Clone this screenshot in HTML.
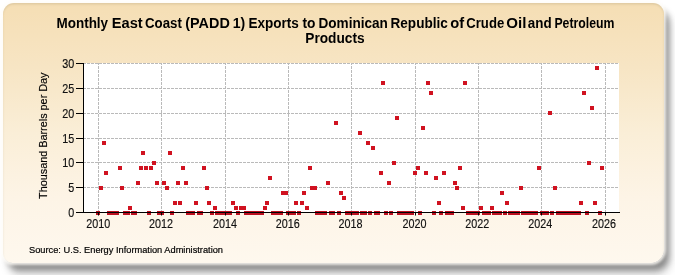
<!DOCTYPE html>
<html><head><meta charset="utf-8"><style>
html,body{margin:0;padding:0;background:#fff;width:675px;height:275px;overflow:hidden;}
#shadow{position:absolute;left:3px;top:2.5px;width:661px;height:260px;border-radius:11px 11px 14px 10px;
box-shadow:5px 7px 6px rgba(0,0,0,0.36),6px 12px 10px rgba(0,0,0,0.18);}
#frame{position:absolute;left:3px;top:2.5px;width:661px;height:260px;border-radius:11px 11px 14px 10px;
background:linear-gradient(to bottom,#F5DEB4 0%,#F7E5C4 25%,#FAEED7 50%,#FDF4E6 75%,#FEF8EE 100%);
box-shadow:0 0 3px 1.5px rgba(255,253,248,0.85),inset 0 1.5px 2px rgba(110,100,60,0.16);filter:blur(0.6px);}
svg{position:absolute;left:0;top:0;will-change:transform;}
.t{font-weight:bold;font-size:14px;fill:#000}
text{font-family:"Liberation Sans",sans-serif;fill:#111;}
</style></head><body>
<div id="shadow"></div><div id="frame"></div>
<svg width="675" height="275" viewBox="0 0 675 275">
<text x="56.5" y="28" textLength="51.6" lengthAdjust="spacingAndGlyphs" class="t">Monthly</text>
<text x="111.8" y="28" textLength="30.9" lengthAdjust="spacingAndGlyphs" class="t">East</text>
<text x="145.0" y="28" textLength="36.8" lengthAdjust="spacingAndGlyphs" class="t">Coast</text>
<text x="185.3" y="28" textLength="44.5" lengthAdjust="spacingAndGlyphs" class="t">(PADD</text>
<text x="232.7" y="28" textLength="12.5" lengthAdjust="spacingAndGlyphs" class="t">1)</text>
<text x="248.5" y="28" textLength="50.4" lengthAdjust="spacingAndGlyphs" class="t">Exports</text>
<text x="302.5" y="28" textLength="13.0" lengthAdjust="spacingAndGlyphs" class="t">to</text>
<text x="318.5" y="28" textLength="69.4" lengthAdjust="spacingAndGlyphs" class="t">Dominican</text>
<text x="390.5" y="28" textLength="57.3" lengthAdjust="spacingAndGlyphs" class="t">Republic</text>
<text x="450.2" y="28" textLength="13.9" lengthAdjust="spacingAndGlyphs" class="t">of</text>
<text x="466.3" y="28" textLength="37.9" lengthAdjust="spacingAndGlyphs" class="t">Crude</text>
<text x="506.3" y="28" textLength="20.1" lengthAdjust="spacingAndGlyphs" class="t">Oil</text>
<text x="527.8" y="28" textLength="23.8" lengthAdjust="spacingAndGlyphs" class="t">and</text>
<text x="554.4" y="28" textLength="60.0" lengthAdjust="spacingAndGlyphs" class="t">Petroleum</text>
<text x="305.3" y="42.8" textLength="59.3" lengthAdjust="spacingAndGlyphs" class="t">Products</text>
<rect x="83.5" y="63" width="535.5" height="149.5" fill="#fff"/>
<g stroke="#bababa" stroke-width="1" stroke-dasharray="3,1" stroke-dashoffset="1" fill="none"><line x1="84" y1="187.5" x2="619" y2="187.5"/><line x1="84" y1="162.5" x2="619" y2="162.5"/><line x1="84" y1="138.5" x2="619" y2="138.5"/><line x1="84" y1="113.5" x2="619" y2="113.5"/><line x1="84" y1="88.5" x2="619" y2="88.5"/><line x1="84" y1="63.5" x2="619" y2="63.5"/><line x1="98.5" y1="63" x2="98.5" y2="212"/><line x1="161.5" y1="63" x2="161.5" y2="212"/><line x1="225.5" y1="63" x2="225.5" y2="212"/><line x1="288.5" y1="63" x2="288.5" y2="212"/><line x1="351.5" y1="63" x2="351.5" y2="212"/><line x1="415.5" y1="63" x2="415.5" y2="212"/><line x1="478.5" y1="63" x2="478.5" y2="212"/><line x1="541.5" y1="63" x2="541.5" y2="212"/><line x1="605.5" y1="63" x2="605.5" y2="212"/></g>
<g fill="#D01220"><rect x="99" y="186" width="4" height="4"/><rect x="102" y="141" width="4" height="4"/><rect x="104" y="171" width="4" height="4"/><rect x="118" y="166" width="4" height="4"/><rect x="120" y="186" width="4" height="4"/><rect x="128" y="206" width="4" height="4"/><rect x="136" y="181" width="4" height="4"/><rect x="139" y="166" width="4" height="4"/><rect x="141" y="151" width="4" height="4"/><rect x="144" y="166" width="4" height="4"/><rect x="149" y="166" width="4" height="4"/><rect x="152" y="161" width="4" height="4"/><rect x="155" y="181" width="4" height="4"/><rect x="162" y="181" width="4" height="4"/><rect x="165" y="186" width="4" height="4"/><rect x="168" y="151" width="4" height="4"/><rect x="173" y="201" width="4" height="4"/><rect x="176" y="181" width="4" height="4"/><rect x="178" y="201" width="4" height="4"/><rect x="181" y="166" width="4" height="4"/><rect x="184" y="181" width="4" height="4"/><rect x="194" y="201" width="4" height="4"/><rect x="202" y="166" width="4" height="4"/><rect x="205" y="186" width="4" height="4"/><rect x="207" y="201" width="4" height="4"/><rect x="213" y="206" width="4" height="4"/><rect x="231" y="201" width="4" height="4"/><rect x="234" y="206" width="4" height="4"/><rect x="239" y="206" width="4" height="4"/><rect x="242" y="206" width="4" height="4"/><rect x="263" y="206" width="4" height="4"/><rect x="265" y="201" width="4" height="4"/><rect x="268" y="176" width="4" height="4"/><rect x="281" y="191" width="4" height="4"/><rect x="284" y="191" width="4" height="4"/><rect x="294" y="201" width="4" height="4"/><rect x="300" y="201" width="4" height="4"/><rect x="302" y="191" width="4" height="4"/><rect x="305" y="206" width="4" height="4"/><rect x="308" y="166" width="4" height="4"/><rect x="310" y="186" width="4" height="4"/><rect x="313" y="186" width="4" height="4"/><rect x="326" y="181" width="4" height="4"/><rect x="334" y="121" width="4" height="4"/><rect x="339" y="191" width="4" height="4"/><rect x="342" y="196" width="4" height="4"/><rect x="358" y="131" width="4" height="4"/><rect x="366" y="141" width="4" height="4"/><rect x="371" y="146" width="4" height="4"/><rect x="379" y="171" width="4" height="4"/><rect x="381" y="81" width="4" height="4"/><rect x="387" y="181" width="4" height="4"/><rect x="392" y="161" width="4" height="4"/><rect x="395" y="116" width="4" height="4"/><rect x="413" y="171" width="4" height="4"/><rect x="416" y="166" width="4" height="4"/><rect x="421" y="126" width="4" height="4"/><rect x="424" y="171" width="4" height="4"/><rect x="426" y="81" width="4" height="4"/><rect x="429" y="91" width="4" height="4"/><rect x="434" y="176" width="4" height="4"/><rect x="437" y="201" width="4" height="4"/><rect x="442" y="171" width="4" height="4"/><rect x="453" y="181" width="4" height="4"/><rect x="455" y="186" width="4" height="4"/><rect x="458" y="166" width="4" height="4"/><rect x="461" y="206" width="4" height="4"/><rect x="463" y="81" width="4" height="4"/><rect x="479" y="206" width="4" height="4"/><rect x="490" y="206" width="4" height="4"/><rect x="500" y="191" width="4" height="4"/><rect x="505" y="201" width="4" height="4"/><rect x="519" y="186" width="4" height="4"/><rect x="537" y="166" width="4" height="4"/><rect x="548" y="111" width="4" height="4"/><rect x="553" y="186" width="4" height="4"/><rect x="579" y="201" width="4" height="4"/><rect x="582" y="91" width="4" height="4"/><rect x="587" y="161" width="4" height="4"/><rect x="590" y="106" width="4" height="4"/><rect x="593" y="201" width="4" height="4"/><rect x="595" y="66" width="4" height="4"/><rect x="600" y="166" width="4" height="4"/></g>
<g fill="#BC1020"><rect x="96" y="211" width="4" height="4"/><rect x="107" y="211" width="4" height="4"/><rect x="110" y="211" width="4" height="4"/><rect x="112" y="211" width="4" height="4"/><rect x="115" y="211" width="4" height="4"/><rect x="123" y="211" width="4" height="4"/><rect x="126" y="211" width="4" height="4"/><rect x="131" y="211" width="4" height="4"/><rect x="133" y="211" width="4" height="4"/><rect x="147" y="211" width="4" height="4"/><rect x="157" y="211" width="4" height="4"/><rect x="160" y="211" width="4" height="4"/><rect x="170" y="211" width="4" height="4"/><rect x="186" y="211" width="4" height="4"/><rect x="189" y="211" width="4" height="4"/><rect x="191" y="211" width="4" height="4"/><rect x="197" y="211" width="4" height="4"/><rect x="199" y="211" width="4" height="4"/><rect x="210" y="211" width="4" height="4"/><rect x="215" y="211" width="4" height="4"/><rect x="218" y="211" width="4" height="4"/><rect x="221" y="211" width="4" height="4"/><rect x="223" y="211" width="4" height="4"/><rect x="226" y="211" width="4" height="4"/><rect x="228" y="211" width="4" height="4"/><rect x="236" y="211" width="4" height="4"/><rect x="244" y="211" width="4" height="4"/><rect x="247" y="211" width="4" height="4"/><rect x="250" y="211" width="4" height="4"/><rect x="252" y="211" width="4" height="4"/><rect x="255" y="211" width="4" height="4"/><rect x="257" y="211" width="4" height="4"/><rect x="260" y="211" width="4" height="4"/><rect x="271" y="211" width="4" height="4"/><rect x="273" y="211" width="4" height="4"/><rect x="276" y="211" width="4" height="4"/><rect x="279" y="211" width="4" height="4"/><rect x="286" y="211" width="4" height="4"/><rect x="289" y="211" width="4" height="4"/><rect x="292" y="211" width="4" height="4"/><rect x="297" y="211" width="4" height="4"/><rect x="315" y="211" width="4" height="4"/><rect x="318" y="211" width="4" height="4"/><rect x="321" y="211" width="4" height="4"/><rect x="323" y="211" width="4" height="4"/><rect x="329" y="211" width="4" height="4"/><rect x="331" y="211" width="4" height="4"/><rect x="337" y="211" width="4" height="4"/><rect x="345" y="211" width="4" height="4"/><rect x="347" y="211" width="4" height="4"/><rect x="350" y="211" width="4" height="4"/><rect x="352" y="211" width="4" height="4"/><rect x="355" y="211" width="4" height="4"/><rect x="360" y="211" width="4" height="4"/><rect x="363" y="211" width="4" height="4"/><rect x="368" y="211" width="4" height="4"/><rect x="374" y="211" width="4" height="4"/><rect x="376" y="211" width="4" height="4"/><rect x="384" y="211" width="4" height="4"/><rect x="389" y="211" width="4" height="4"/><rect x="397" y="211" width="4" height="4"/><rect x="400" y="211" width="4" height="4"/><rect x="403" y="211" width="4" height="4"/><rect x="405" y="211" width="4" height="4"/><rect x="408" y="211" width="4" height="4"/><rect x="410" y="211" width="4" height="4"/><rect x="418" y="211" width="4" height="4"/><rect x="432" y="211" width="4" height="4"/><rect x="439" y="211" width="4" height="4"/><rect x="445" y="211" width="4" height="4"/><rect x="447" y="211" width="4" height="4"/><rect x="450" y="211" width="4" height="4"/><rect x="466" y="211" width="4" height="4"/><rect x="469" y="211" width="4" height="4"/><rect x="471" y="211" width="4" height="4"/><rect x="474" y="211" width="4" height="4"/><rect x="476" y="211" width="4" height="4"/><rect x="482" y="211" width="4" height="4"/><rect x="484" y="211" width="4" height="4"/><rect x="487" y="211" width="4" height="4"/><rect x="492" y="211" width="4" height="4"/><rect x="495" y="211" width="4" height="4"/><rect x="498" y="211" width="4" height="4"/><rect x="503" y="211" width="4" height="4"/><rect x="508" y="211" width="4" height="4"/><rect x="511" y="211" width="4" height="4"/><rect x="513" y="211" width="4" height="4"/><rect x="516" y="211" width="4" height="4"/><rect x="521" y="211" width="4" height="4"/><rect x="524" y="211" width="4" height="4"/><rect x="527" y="211" width="4" height="4"/><rect x="529" y="211" width="4" height="4"/><rect x="532" y="211" width="4" height="4"/><rect x="534" y="211" width="4" height="4"/><rect x="540" y="211" width="4" height="4"/><rect x="542" y="211" width="4" height="4"/><rect x="545" y="211" width="4" height="4"/><rect x="550" y="211" width="4" height="4"/><rect x="556" y="211" width="4" height="4"/><rect x="558" y="211" width="4" height="4"/><rect x="561" y="211" width="4" height="4"/><rect x="563" y="211" width="4" height="4"/><rect x="566" y="211" width="4" height="4"/><rect x="569" y="211" width="4" height="4"/><rect x="571" y="211" width="4" height="4"/><rect x="574" y="211" width="4" height="4"/><rect x="577" y="211" width="4" height="4"/><rect x="585" y="211" width="4" height="4"/><rect x="598" y="211" width="4" height="4"/></g>
<g stroke="#000" stroke-width="1">
<line x1="83.5" y1="63" x2="83.5" y2="213"/>
<line x1="83" y1="212.5" x2="620" y2="212.5"/>
<line x1="76" y1="212.5" x2="84" y2="212.5"/><line x1="76" y1="187.5" x2="84" y2="187.5"/><line x1="76" y1="162.5" x2="84" y2="162.5"/><line x1="76" y1="138.5" x2="84" y2="138.5"/><line x1="76" y1="113.5" x2="84" y2="113.5"/><line x1="76" y1="88.5" x2="84" y2="88.5"/><line x1="76" y1="63.5" x2="84" y2="63.5"/><line x1="98.5" y1="212" x2="98.5" y2="215.5"/><line x1="161.5" y1="212" x2="161.5" y2="215.5"/><line x1="225.5" y1="212" x2="225.5" y2="215.5"/><line x1="288.5" y1="212" x2="288.5" y2="215.5"/><line x1="351.5" y1="212" x2="351.5" y2="215.5"/><line x1="415.5" y1="212" x2="415.5" y2="215.5"/><line x1="478.5" y1="212" x2="478.5" y2="215.5"/><line x1="541.5" y1="212" x2="541.5" y2="215.5"/><line x1="605.5" y1="212" x2="605.5" y2="215.5"/>
</g>
<g style="font-size:12px;fill:#000;stroke:#000;stroke-width:0.15px" text-anchor="end"><text x="74.3" y="216.60" textLength="6" lengthAdjust="spacingAndGlyphs">0</text><text x="74.3" y="191.60" textLength="6" lengthAdjust="spacingAndGlyphs">5</text><text x="74.3" y="166.60" textLength="12" lengthAdjust="spacingAndGlyphs">10</text><text x="74.3" y="142.60" textLength="12" lengthAdjust="spacingAndGlyphs">15</text><text x="74.3" y="117.60" textLength="12" lengthAdjust="spacingAndGlyphs">20</text><text x="74.3" y="92.60" textLength="12" lengthAdjust="spacingAndGlyphs">25</text><text x="74.3" y="67.60" textLength="12" lengthAdjust="spacingAndGlyphs">30</text></g>
<g style="font-size:12px;fill:#000;stroke:#000;stroke-width:0.15px" text-anchor="middle"><text x="98.20" y="227.9" textLength="24" lengthAdjust="spacingAndGlyphs">2010</text><text x="161.05" y="227.9" textLength="24" lengthAdjust="spacingAndGlyphs">2012</text><text x="224.90" y="227.9" textLength="24" lengthAdjust="spacingAndGlyphs">2014</text><text x="287.75" y="227.9" textLength="24" lengthAdjust="spacingAndGlyphs">2016</text><text x="350.60" y="227.9" textLength="24" lengthAdjust="spacingAndGlyphs">2018</text><text x="414.45" y="227.9" textLength="24" lengthAdjust="spacingAndGlyphs">2020</text><text x="477.30" y="227.9" textLength="24" lengthAdjust="spacingAndGlyphs">2022</text><text x="540.15" y="227.9" textLength="24" lengthAdjust="spacingAndGlyphs">2024</text><text x="604.00" y="227.9" textLength="24" lengthAdjust="spacingAndGlyphs">2026</text></g>
<text transform="translate(47,135.7) rotate(-90)" text-anchor="middle" textLength="126.5" lengthAdjust="spacingAndGlyphs" style="font-size:11px;fill:#000;stroke:#000;stroke-width:0.15px">Thousand Barrels per Day</text>
<text x="29" y="252.7" textLength="194" lengthAdjust="spacingAndGlyphs" style="font-size:9.5px;fill:#000;stroke:#000;stroke-width:0.2px">Source: U.S. Energy Information Administration</text>
</svg>
</body></html>
